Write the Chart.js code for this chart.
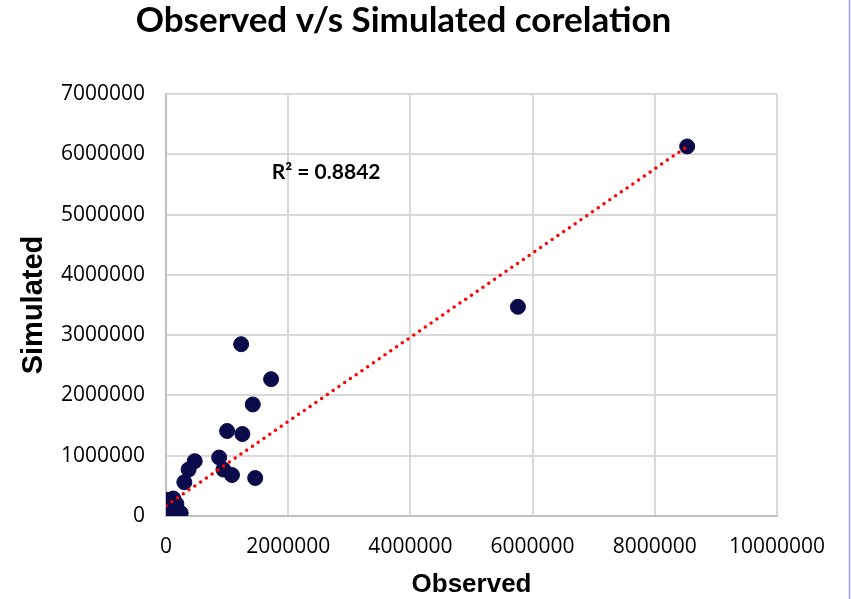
<!DOCTYPE html>
<html>
<head>
<meta charset="utf-8">
<script src="https://cdn.jsdelivr.net/npm/chart.js@4"></script>
<style>
  html, body { margin: 0; padding: 0; background: #fff; }
</style>
</head>
<body>
<canvas id="scatter" width="851" height="599"></canvas>
<script>
// values
const observed  = [8530000, 5760000, 1230000, 1720000, 1420000, 1000000, 1250000, 1460000, 870000, 940000, 1080000, 470000, 370000, 300000, 240000, 10000, 120000, 170000, 20000, 5000, 60000, 15000];
const simulated = [6130000, 3470000, 2850000, 2270000, 1850000, 1410000, 1360000, 630000, 970000, 770000, 680000, 910000, 770000, 560000, 50000, 270000, 290000, 200000, 100000, 10000, 30000, 180000];
const trendX = [0, 8530000];
const trendY = [170000, 6130000];
const rSquared = 'R² = 0.8842';
const rLabelAt = [1730000, 5700000];

const points = observed.map((x, i) => ({ x: x, y: simulated[i] }));
const trend = trendX.map((x, i) => ({ x: x, y: trendY[i] }));

const plain = v => String(v);

// R² label and the thin frame line on the right
const extras = {
  id: 'extras',
  afterDraw(chart) {
    const ctx = chart.ctx;
    const xs = chart.scales.x, ys = chart.scales.y;
    ctx.save();
    ctx.font = 'bold 21px Lato';
    ctx.fillStyle = '#000';
    ctx.textBaseline = 'middle';
    ctx.fillText(rSquared, xs.getPixelForValue(rLabelAt[0]), ys.getPixelForValue(rLabelAt[1]));
    ctx.strokeStyle = '#a0a0ff';
    ctx.lineWidth = 1.5;
    ctx.beginPath();
    ctx.moveTo(849.5, 0);
    ctx.lineTo(849.5, chart.height);
    ctx.stroke();
    ctx.restore();
  }
};

new Chart(document.getElementById('scatter'), {
  type: 'scatter',
  data: {
    datasets: [
      {
        label: 'Trend',
        data: trend,
        showLine: true,
        borderColor: '#ff0000',
        borderWidth: 3.5,
        borderDash: [0, 7],
        borderCapStyle: 'round',
        pointRadius: 0,
        order: 0,
      },
      {
        label: 'Simulated',
        data: points,
        backgroundColor: '#0b0b4c',
        borderColor: '#0b0b4c',
        pointRadius: 7.5,
        order: 1,
      },
    ],
  },
  options: {
    responsive: false,
    animation: false,
    layout: { padding: { left: 30, right: 74, top: 0, bottom: 0 } },
    plugins: {
      legend: { display: false },
      tooltip: { enabled: false },
      title: {
        display: true,
        text: 'Observed v/s Simulated corelation',
        color: '#000',
        font: { family: 'Lato', size: 35, weight: 'bold' },
        padding: { top: 0, bottom: 52 },
      },
    },
    scales: {
      x: {
        type: 'linear',
        min: 0,
        max: 10000000,
        afterFit: s => { s.height = 83; },
        grid: { color: '#d9d9d9', lineWidth: 2, drawTicks: false },
        border: { color: '#bfbfbf', width: 2 },
        ticks: { stepSize: 2000000, callback: plain, color: '#000', padding: 18,
                 font: { family: 'Open Sans', size: 21 }, maxRotation: 0 },
        title: { display: true, text: 'Observed', color: '#000',
                 font: { family: 'Liberation Sans', size: 26, weight: 'bold' },
                 padding: { top: 0, bottom: -1 } },
      },
      y: {
        type: 'linear',
        min: 0,
        max: 7000000,
        afterFit: s => { s.width = 136; },
        grid: { color: '#d9d9d9', lineWidth: 2, drawTicks: false },
        border: { color: '#bfbfbf', width: 2 },
        ticks: { stepSize: 1000000, callback: plain, color: '#000', padding: 21,
                 font: { family: 'Open Sans', size: 21 } },
        title: { display: true, text: 'Simulated', color: '#000',
                 font: { family: 'Liberation Sans', size: 29, weight: 'bold' },
                 padding: { top: -13, bottom: 0 } },
      },
    },
  },
  plugins: [extras],
});
</script>
</body>
</html>
